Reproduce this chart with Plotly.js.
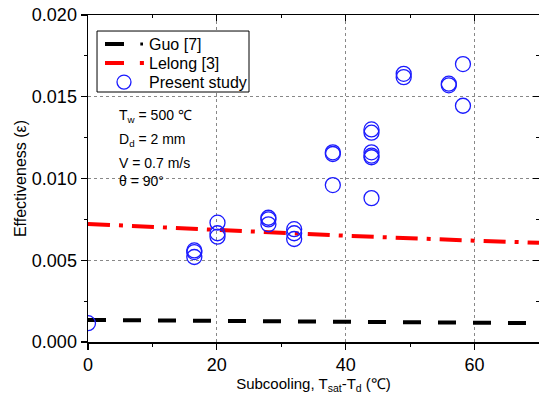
<!DOCTYPE html>
<html><head><meta charset="utf-8">
<script src="https://cdn.plot.ly/plotly-3.0.1.min.js"></script>
<style>body{margin:0;background:#fff}#c{width:539px;height:401px}</style>
</head><body><div id="c"></div>
<script>
const studyX = [0, 16.5, 16.5, 16.5, 20.1, 20.1, 20.1, 28, 28, 28, 32, 32, 32, 38, 38, 38, 44, 44, 44, 44, 44, 44, 49, 49, 56, 56, 58.2, 58.2];
const studyY = [0.00115, 0.0056, 0.0055, 0.0052, 0.0073, 0.00665, 0.00644, 0.0076, 0.0075, 0.0072, 0.0069, 0.00665, 0.0063, 0.0116, 0.0115, 0.0096, 0.0130, 0.0128, 0.0116, 0.0114, 0.0113, 0.0088, 0.0164, 0.0162, 0.0158, 0.0157, 0.0170, 0.01445];
const guoX = [0, 20, 40, 60, 70];
const guoY = [0.00135, 0.0013, 0.00124, 0.00118, 0.00115];
const lelongX = [0, 20, 40, 60, 70];
const lelongY = [0.00722, 0.00685, 0.0065, 0.0062, 0.00607];
const seriesNames = ['Guo [7]', 'Lelong [3]', 'Present study'];
const seriesColors = ['#000000', '#ff0000', '#1a1aff'];

const font = {family: 'Liberation Sans, Arial, sans-serif', color: '#000'};
const traces = [
  {x: guoX, y: guoY, mode: 'lines', name: seriesNames[0], showlegend: false, line: {color: seriesColors[0], width: 4, dash: '18px,17px'}},
  {x: lelongX, y: lelongY, mode: 'lines', name: seriesNames[1], showlegend: false, line: {color: seriesColors[1], width: 4, dash: '22px,9px,4px,9px'}},
  {x: studyX, y: studyY, mode: 'markers', name: seriesNames[2], showlegend: false, marker: {symbol: 'circle-open', size: 15, color: seriesColors[2], line: {width: 1.3, color: seriesColors[2]}}},
  {x: [0], y: [0], xaxis: 'x2', yaxis: 'y2', mode: 'markers', marker: {opacity: 0}, showlegend: false, hoverinfo: 'skip'}
];

// hand-drawn legend (paper coordinates)
const lgRows = [0.9113, 0.8532, 0.795];
const shapes = [
  {type: 'rect', xref: 'paper', yref: 'paper', x0: 0.02, x1: 0.357, y0: 0.7645, y1: 0.951, line: {color: '#000', width: 1}, fillcolor: '#fff', layer: 'above'},
  {type: 'line', xref: 'paper', yref: 'paper', x0: 0.0377, x1: 0.0798, y0: lgRows[0], y1: lgRows[0], line: {color: seriesColors[0], width: 4}, layer: 'above'},
  {type: 'line', xref: 'paper', yref: 'paper', x0: 0.116, x1: 0.122, y0: lgRows[0], y1: lgRows[0], line: {color: seriesColors[0], width: 3}, layer: 'above'},
  {type: 'line', xref: 'paper', yref: 'paper', x0: 0.0377, x1: 0.0798, y0: lgRows[1], y1: lgRows[1], line: {color: seriesColors[1], width: 4}, layer: 'above'},
  {type: 'line', xref: 'paper', yref: 'paper', x0: 0.115, x1: 0.124, y0: lgRows[1], y1: lgRows[1], line: {color: seriesColors[1], width: 4}, layer: 'above'},
  {type: 'circle', xref: 'paper', yref: 'paper', x0: 0.0798 - 0.0155, x1: 0.0798 + 0.0155, y0: lgRows[2] - 0.0214, y1: lgRows[2] + 0.0214, line: {color: seriesColors[2], width: 1.3}, layer: 'above'}
];
const lgText = seriesNames.map((n, i) => ({xref: 'paper', yref: 'paper', x: 0.131, y: lgRows[i], xanchor: 'left', yanchor: 'middle', showarrow: false, text: n, font: Object.assign({size: 16}, font)}));

const ann = (t, y) => ({xref: 'paper', yref: 'paper', x: 0.065, y: y, xanchor: 'left', yanchor: 'middle', showarrow: false, align: 'left', text: t, font: Object.assign({size: 14}, font)});

const layout = {
  width: 539, height: 401,
  margin: {l: 88, r: 0, t: 15, b: 59},
  paper_bgcolor: '#fff', plot_bgcolor: '#fff',
  showlegend: false,
  font: Object.assign({size: 15}, font),
  xaxis: {
    range: [0, 70], dtick: 20, tick0: 0,
    showline: true, linecolor: '#000', linewidth: 1.5,
    ticks: 'outside', ticklen: 6, tickwidth: 1.2, tickcolor: '#000',
    minor: {dtick: 10, ticks: 'outside', ticklen: 3, tickcolor: '#000', tickwidth: 1},
    showgrid: true, gridcolor: '#888', griddash: 'dot', gridwidth: 1,
    zeroline: false,
    tickfont: Object.assign({size: 18}, font),
    title: {text: 'Subcooling, T<sub>sat</sub>-T<sub>d</sub> (℃)', font: Object.assign({size: 15}, font), standoff: 4}
  },
  yaxis: {
    range: [0, 0.02], dtick: 0.005, tick0: 0, tickformat: '.3f',
    showline: true, linecolor: '#000', linewidth: 1.5,
    ticks: 'outside', ticklen: 6, tickwidth: 1.2, tickcolor: '#000',
    minor: {dtick: 0.0025, ticks: 'outside', ticklen: 3, tickcolor: '#000', tickwidth: 1},
    showgrid: true, gridcolor: '#888', griddash: 'dot', gridwidth: 1,
    zeroline: false,
    tickfont: Object.assign({size: 18}, font),
    title: {text: 'Effectiveness (ε)', font: Object.assign({size: 16}, font), standoff: 1}
  },
  xaxis2: {overlaying: 'x', side: 'top', matches: 'x', range: [0, 70], dtick: 20, showticklabels: false,
    showline: true, linecolor: '#000', linewidth: 1.5, ticks: 'inside', ticklen: 6, tickcolor: '#000',
    minor: {dtick: 10, ticks: 'inside', ticklen: 3, tickcolor: '#000'}, showgrid: false, zeroline: false},
  yaxis2: {overlaying: 'y', side: 'right', range: [0, 0.02], dtick: 0.005, showticklabels: false,
    showline: false, ticks: 'inside', ticklen: 6, tickcolor: '#000',
    minor: {dtick: 0.0025, ticks: 'inside', ticklen: 3, tickcolor: '#000'}, showgrid: false, zeroline: false},
  shapes: shapes,
  annotations: lgText.concat([
    ann('T<sub>w</sub> = 500 ℃', 0.69),
    ann('D<sub>d</sub> = 2 mm', 0.617),
    ann('V = 0.7 m/s', 0.547),
    ann('θ = 90°', 0.493)
  ])
};
Plotly.newPlot('c', traces, layout, {staticPlot: true});
</script></body></html>
